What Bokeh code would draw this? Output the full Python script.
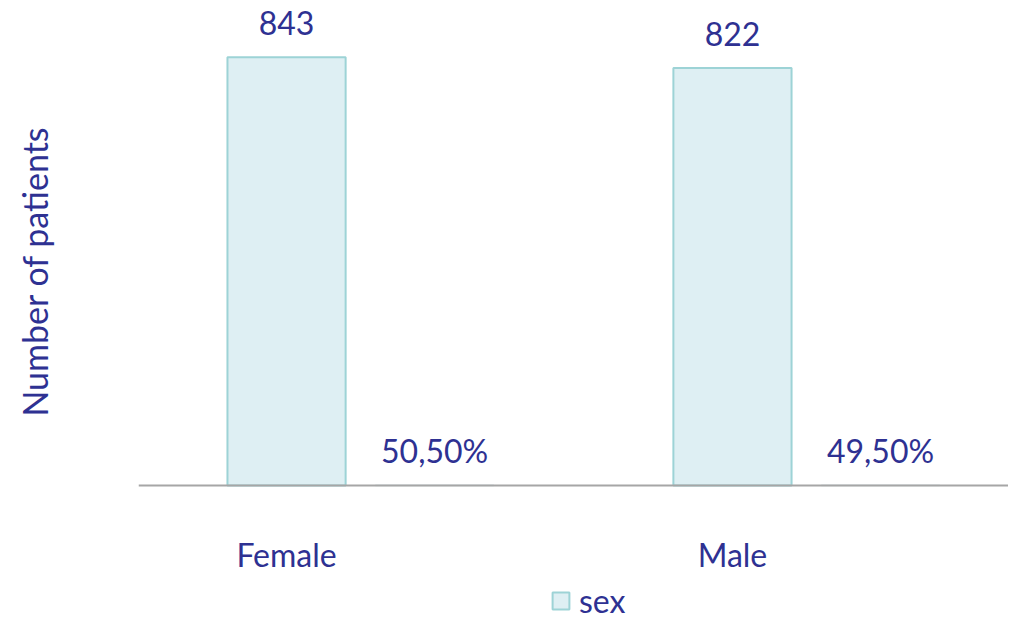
from bokeh.plotting import figure
from bokeh.models import ColumnDataSource, FixedTicker, Legend, LegendItem, Range1d, LabelSet
from bokeh.embed import file_html
from bokeh.resources import INLINE
from bokeh.core.properties import value

categories = ["Female", "Male"]
counts = [843, 822]
percents = [50.50, 49.50]
count_labels = ["843", "822"]
percent_labels = ["50,50%", "49,50%"]
y_title = "Number of patients"
legend_label = "sex"

FONT = "Lato"
TXT = "#2e3192"
FILL = "#deeff3"
EDGE = "#9dd3d6"

idx = list(range(len(categories)))
pct_offset = 0.332
src_c = ColumnDataSource(dict(x=idx, top=counts, lab=count_labels))
src_p = ColumnDataSource(dict(x=[i + pct_offset for i in idx], top=[v / 100 for v in percents], lab=percent_labels))

p = figure(width=1008, height=620, output_backend="svg", toolbar_location=None,
           x_range=Range1d(-0.332, 1.619), y_range=Range1d(-266, 955),
           min_border_top=0, min_border_right=0, min_border_left=138, min_border_bottom=0)
p.outline_line_color = None
p.xgrid.visible = False
p.ygrid.visible = False

r1 = p.vbar(x="x", top="top", width=0.265, source=src_c, fill_color=FILL, line_color=EDGE, line_width=2)
p.vbar(x="x", top="top", width=0.265, source=src_p, fill_color=FILL, line_color="#d6e4e6", line_width=1.5)

for s in (src_c, src_p):
    p.add_layout(LabelSet(x="x", y="top", text="lab", source=s, text_align="center", text_baseline="alphabetic",
                          y_offset=22, text_font=value(FONT), text_font_size="32px", text_color=TXT))

p.xaxis.fixed_location = 0
p.xaxis.ticker = FixedTicker(ticks=idx)
p.xaxis.major_label_overrides = {i: c for i, c in zip(idx, categories)}
p.xaxis.major_tick_line_color = None
p.xaxis.minor_tick_line_color = None
p.xaxis.axis_line_color = "#a6a6a6"
p.xaxis.axis_line_width = 2
p.xaxis.major_label_standoff = 44
p.xaxis.major_label_text_font = FONT
p.xaxis.major_label_text_font_size = "32px"
p.xaxis.major_label_text_color = TXT

p.yaxis.ticker = FixedTicker(ticks=[])
p.yaxis.axis_line_color = None
p.yaxis.major_tick_line_color = None
p.yaxis.minor_tick_line_color = None
p.yaxis.axis_label = "\u00a0" * 9 + y_title
p.yaxis.axis_label_text_font = FONT
p.yaxis.axis_label_text_font_size = "34px"
p.yaxis.axis_label_text_font_style = "normal"
p.yaxis.axis_label_text_color = TXT
p.yaxis.axis_label_standoff = 84

legend = Legend(items=[LegendItem(label=legend_label, renderers=[r1])], location=(412, 0),
                orientation="horizontal", label_text_font=FONT, label_text_font_size="32px",
                label_text_color=TXT, glyph_width=21, glyph_height=21, border_line_color=None,
                background_fill_alpha=0, padding=0, margin=0, spacing=0, label_standoff=8, label_height=21)
p.add_layout(legend)

open("out.html", "w").write(file_html(p, INLINE))
